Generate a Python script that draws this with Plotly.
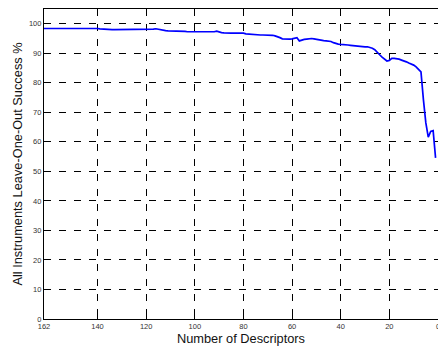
import plotly.graph_objects as go

# Leave-one-out success rate as descriptors are removed (162 down to 1)
descriptors = list(range(162, 0, -1))
success_pct = [
    98.4, 98.4, 98.4, 98.4, 98.4, 98.4, 98.4, 98.5, 98.6, 98.6,
    98.6, 98.6, 98.6, 98.6, 98.6, 98.6, 98.6, 98.6, 98.6, 98.6,
    98.5, 98.5, 98.4, 98.3, 98.2, 98.1, 98.0, 98.0, 98.0, 98.0,
    98.0, 98.0, 98.1, 98.1, 98.1, 98.1, 98.1, 98.1, 98.1, 98.1,
    98.1, 98.1, 98.1, 98.1, 98.1, 98.2, 98.3, 98.1, 97.9, 97.8,
    97.7, 97.6, 97.6, 97.5, 97.5, 97.4, 97.4, 97.4, 97.4, 97.3,
    97.3, 97.3, 97.2, 97.2, 97.2, 97.1, 97.1, 97.1, 97.3, 97.2,
    97.3, 97.5, 97.2, 97.0, 96.9, 96.8, 96.8, 96.8, 96.8, 96.8,
    96.9, 96.9, 96.8, 96.6, 96.5, 96.4, 96.3, 96.3, 96.2, 96.2,
    96.2, 96.2, 96.3, 96.3, 96.1, 95.9, 95.7, 95.3, 94.9, 94.8,
    94.8, 94.8, 94.9, 95.2, 95.3, 94.2, 94.5, 94.7, 94.8, 95.0,
    95.0, 94.9, 94.7, 94.5, 94.4, 94.3, 94.2, 94.1, 94.0, 93.6,
    93.3, 93.1, 93.0, 93.0, 92.9, 92.8, 92.7, 92.6, 92.5, 92.3,
    92.2, 92.2, 92.2, 92.2, 92.0, 91.7, 91.2, 90.5, 89.5, 88.7,
    87.9, 87.4, 87.6, 88.3, 88.3, 88.2, 88.0, 87.7, 87.5, 87.1,
    86.7, 86.4, 86.0, 85.4, 84.6, 83.7, 74.3, 66.4, 61.6, 63.5,
    63.8, 54.6,
]

x_ticks = [162, 140, 120, 100, 80, 60, 40, 20, 0]
y_ticks = [0, 10, 20, 30, 40, 50, 60, 70, 80, 90, 100]

font_family = "Liberation Sans, Arial, sans-serif"

fig = go.Figure(
    go.Scatter(
        x=descriptors,
        y=success_pct,
        mode="lines",
        line=dict(color="#0000ff", width=1.7),
        showlegend=False,
    )
)

fig.update_layout(
    width=438,
    height=349,
    margin=dict(l=44, r=0, t=9, b=30),
    paper_bgcolor="white",
    plot_bgcolor="white",
    font=dict(family=font_family, color="#222"),
)

fig.update_xaxes(
    range=[162, 0],
    tickvals=x_ticks,
    ticktext=[str(v) for v in x_ticks],
    tickfont=dict(size=7.5, color="#333"),
    ticklabeloverflow="allow",
    ticks="inside",
    ticklen=4,
    tickcolor="black",
    showline=True,
    linecolor="black",
    linewidth=1.2,
    mirror="ticks",
    showgrid=True,
    gridcolor="black",
    gridwidth=1,
    griddash="7px,8px",
    zeroline=False,
    automargin=False,
    title=dict(text="Number of Descriptors", font=dict(size=12.8, color="#111"), standoff=3),
)

fig.update_yaxes(
    range=[0, 105],
    tickvals=y_ticks,
    tickfont=dict(size=7.5, color="#333"),
    ticks="inside",
    ticklen=4,
    tickcolor="black",
    showline=True,
    linecolor="black",
    linewidth=1.2,
    showgrid=True,
    gridcolor="black",
    gridwidth=1,
    griddash="7px,8px",
    zeroline=False,
    automargin=False,
    title=dict(text="All Instruments Leave-One-Out Success %", font=dict(size=12.8, color="#111"), standoff=3),
)

fig.write_html("out.html")
